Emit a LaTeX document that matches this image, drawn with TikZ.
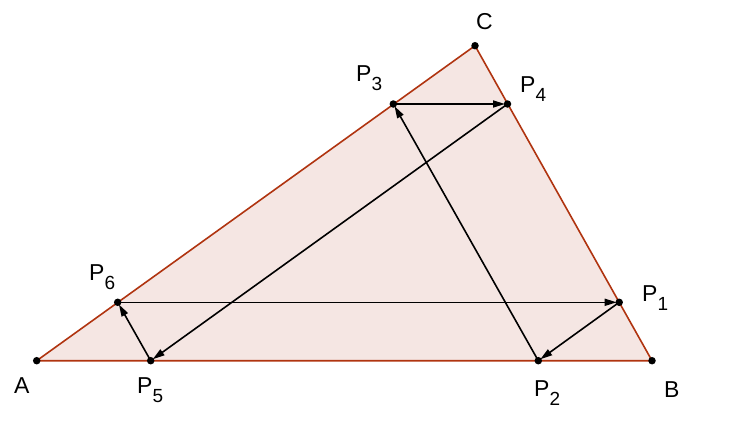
\documentclass[tikz,border=0pt]{standalone}
\usepackage{fontspec}
\setmainfont{Liberation Sans}
\usetikzlibrary{arrows.meta}
\definecolor{edge}{RGB}{176,52,16}
\definecolor{fillc}{RGB}{245,230,227}
\newcommand\lbl[2]{#1\raisebox{-9pt}{\fontsize{19}{19}\selectfont #2}}
\tikzset{
  pt/.style={circle,fill=black,inner sep=0pt,minimum size=7.5pt},
  lab/.style={anchor=base west,inner sep=0pt,font=\fontsize{23}{23}\selectfont},
  arr/.style={line width=1.6pt,-{Triangle[length=12pt,width=7pt]},shorten >=2.5pt}
}
\begin{document}
\begin{tikzpicture}[x=1pt,y=-1pt]
\useasboundingbox (0,0) rectangle (741,442);
\coordinate (cA) at (36.7,360.7);
\coordinate (cB) at (652,360.7);
\coordinate (cC) at (475,45.7);
\filldraw[fill=fillc,draw=edge,line width=1.6pt] (cA) -- (cB) -- (cC) -- cycle;
\node[pt] (A) at (cA) {};
\node[pt] (B) at (cB) {};
\node[pt] (C) at (cC) {};
\node[pt] (P1) at (619.2,302.3) {};
\node[pt] (P2) at (538.3,360.7) {};
\node[pt] (P3) at (393.3,104) {};
\node[pt] (P4) at (507.5,104) {};
\node[pt] (P5) at (150.7,360.7) {};
\node[pt] (P6) at (117.7,302.3) {};
\draw[arr] (P1.center) -- (P2.center);
\draw[arr] (P2.center) -- (P3.center);
\draw[arr] (P3.center) -- (P4.center);
\draw[arr] (P4.center) -- (P5.center);
\draw[arr] (P5.center) -- (P6.center);
\draw[arr] (P6.center) -- (P1.center);
\node[lab] (lA) at (14,393) {A};
\node[lab] (lB) at (664,397) {B};
\node[lab] (lC) at (476,29) {C};
\node[lab] (l1) at (642,301) {\lbl{P}{1}};
\node[lab] (l2) at (534,396) {\lbl{P}{2}};
\node[lab] (l3) at (356,81) {\lbl{P}{3}};
\node[lab] (l4) at (520,92) {\lbl{P}{4}};
\node[lab] (l5) at (137,393) {\lbl{P}{5}};
\node[lab] (l6) at (89,280) {\lbl{P}{6}};
\end{tikzpicture}
\end{document}
